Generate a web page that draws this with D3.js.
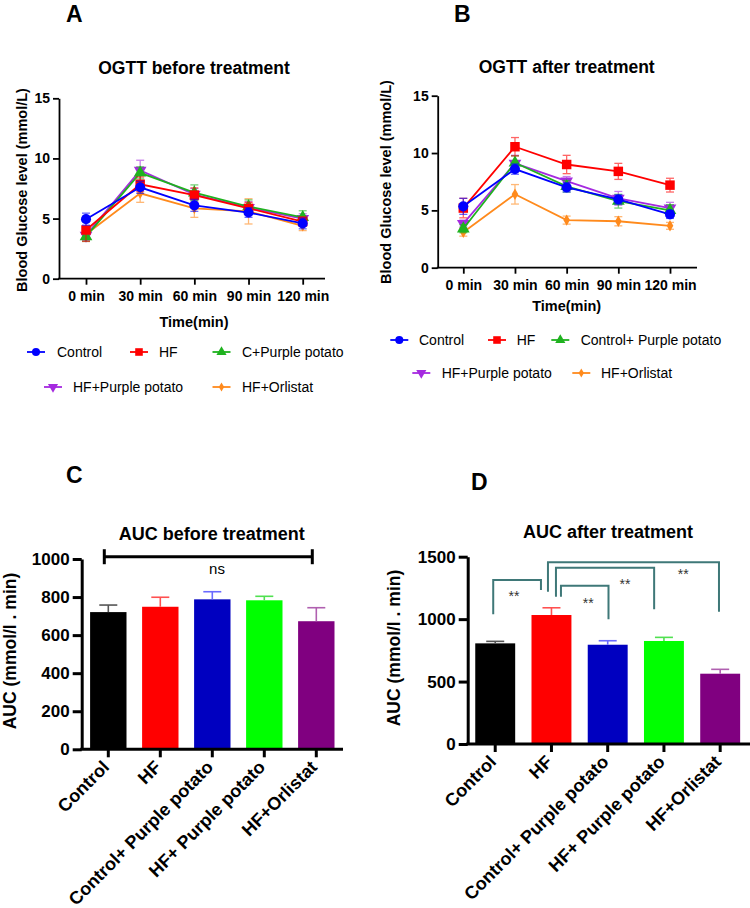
<!DOCTYPE html>
<html><head><meta charset="utf-8">
<script src="https://cdn.jsdelivr.net/npm/d3@7"></script>
<style>body{margin:0;background:#fff} text{font-family:"Liberation Sans",Arial,sans-serif}</style>
</head><body><svg id="c" width="750" height="908"></svg>
<script>
// ---------- DATA ----------
const timepoints = ["0 min","30 min","60 min","90 min","120 min"];
const legendNamesA = ["Control","HF","C+Purple potato","HF+Purple potato","HF+Orlistat"];
const legendNamesB = ["Control","HF","Control+ Purple potato","HF+Purple potato","HF+Orlistat"];

// OGTT before treatment (mmol/L), mean and SEM
const beforeControl = [4.95, 7.6, 6.1, 5.5, 4.6];
const beforeControlErr = [0.5, 0.5, 0.5, 0.4, 0.45];
const beforeHF = [4.05, 7.85, 6.95, 5.85, 4.75];
const beforeHFErr = [0.95, 0.6, 0.6, 0.5, 0.4];
const beforeCPP = [3.5, 8.8, 7.15, 6.0, 5.1];
const beforeCPPErr = [0.4, 0.5, 0.65, 0.55, 0.55];
const beforeHFPP = [3.6, 9.0, 7.0, 5.9, 5.0];
const beforeHFPPErr = [0.4, 0.85, 0.5, 0.5, 0.4];
const beforeOrl = [3.7, 7.1, 5.85, 5.6, 4.4];
const beforeOrlErr = [0.5, 0.75, 0.75, 1.05, 0.4];

// OGTT after treatment
const afterControl = [5.35, 8.6, 7.0, 5.95, 4.65];
const afterControlErr = [0.7, 0.45, 0.4, 0.4, 0.35];
const afterHF = [5.2, 10.55, 9.0, 8.4, 7.2];
const afterHFErr = [0.85, 0.8, 0.8, 0.7, 0.6];
const afterCPP = [3.4, 9.15, 7.1, 5.8, 5.0];
const afterCPPErr = [0.35, 0.6, 0.5, 0.6, 0.5];
const afterHFPP = [3.85, 9.1, 7.55, 6.05, 5.2];
const afterHFPPErr = [0.3, 0.7, 0.4, 0.6, 0.5];
const afterOrl = [3.1, 6.4, 4.15, 4.05, 3.65];
const afterOrlErr = [0.35, 0.85, 0.35, 0.4, 0.3];

const yTicksOGTT = [0, 5, 10, 15];

// AUC
const barCategories = ["Control","HF","Control+ Purple potato","HF+ Purple potato","HF+Orlistat"];
const aucBefore = [721, 749, 788, 783, 673];
const aucBeforeErr = [37, 50, 40, 21, 71];
const aucAfter = [806, 1033, 795, 825, 563];
const aucAfterErr = [16, 58, 32, 29, 35];
const yTicksAUCBefore = [0, 200, 400, 600, 800, 1000];
const yTicksAUCAfter = [0, 500, 1000, 1500];

// significance comparisons for AUC after (from, to, bracket top, left end, right end, label level)
const compFrom = [0, 1, 1, 1];
const compTo = [1, 2, 3, 4];
const compTop = [1313, 1268, 1412, 1455];
const compLeftEnd = [1039, 1180, 1180, 1220];
const compRightEnd = [1233, 999, 1079, 1060];
const compLabel = ["**", "**", "**", "**"];
const compLabelLevel = [1193, 1140, 1287, 1367];

// ---------- STYLE ----------
const lineColors = ["#0000ff", "#ff0000", "#1fb21f", "#a52ae0", "#ff8a1c"];
const symbols = [d3.symbolCircle, d3.symbolSquare, d3.symbolTriangle, d3.symbolTriangle, d3.symbolDiamond];
const symbolSizes = [80, 90, 70, 70, 38];
const symbolRot = [0, 0, 0, 180, 0];
const barColors = ["#000000", "#ff0000", "#0000c0", "#00ff00", "#800080"];
const barErrColors = ["#555555", "#ff5050", "#6a6aff", "#50e050", "#b060b0"];
const FONT = '"Liberation Sans",Arial,sans-serif';

const svg = d3.select("#c");

function letter(txt, x, y) {
  svg.append("text").attr("x", x).attr("y", y).attr("font-size", 23).attr("font-weight", "bold").text(txt);
}

function symbolPath(i) {
  return d3.symbol().type(symbols[i]).size(symbolSizes[i])();
}

function linePanel(cfg) {
  const g = svg.append("g");
  const x = d3.scalePoint().domain(timepoints).range(cfg.xRange);
  const y = d3.scaleLinear().domain([0, 15]).range(cfg.yRange);
  const ya = d3.axisLeft(y).tickValues(yTicksOGTT).tickSize(6).tickPadding(3).tickSizeOuter(0);
  const yg = g.append("g").attr("transform", `translate(${cfg.axisX},0)`).call(ya);
  yg.select(".domain").attr("stroke-width", 1.8);
  yg.selectAll(".tick line").attr("stroke-width", 1.8);
  yg.selectAll("text").attr("font-size", 14).attr("font-weight", "bold").attr("font-family", FONT);
  const xa = d3.axisBottom(x).tickSize(6).tickPadding(5).tickSizeOuter(0);
  const xg = g.append("g").attr("transform", `translate(0,${cfg.yRange[0]})`).call(xa);
  xg.select(".domain").remove();
  xg.selectAll(".tick line").attr("stroke-width", 1.8);
  xg.selectAll("text").attr("font-size", 14).attr("font-weight", "bold").attr("font-family", FONT).attr("dy", cfg.xLabDy);
  g.append("line").attr("x1", cfg.axisX - 0.9).attr("x2", cfg.axisEnd).attr("y1", cfg.yRange[0]).attr("y2", cfg.yRange[0])
    .attr("stroke", "#000").attr("stroke-width", 1.8);
  g.append("text").attr("x", cfg.titleX).attr("y", cfg.titleY).attr("text-anchor", "middle")
    .attr("font-size", 17.5).attr("font-weight", "bold").text(cfg.title);
  g.append("text").attr("transform", `translate(${cfg.yLabX},${cfg.yLabY}) rotate(-90)`).attr("text-anchor", "middle")
    .attr("font-size", 14.5).attr("font-weight", "bold").text("Blood Glucose level (mmol/L)");
  g.append("text").attr("x", cfg.titleX).attr("y", cfg.xTitleY).attr("text-anchor", "middle")
    .attr("font-size", 14.5).attr("font-weight", "bold").text("Time(min)");
  const order = [4, 3, 2, 1, 0];
  const line = d3.line().x((d, i) => x(timepoints[i])).y(d => y(d));
  order.forEach(si => {
    const vals = cfg.means[si], errs = cfg.errs[si], col = lineColors[si];
    g.append("path").datum(vals).attr("d", line).attr("fill", "none").attr("stroke", col).attr("stroke-width", 1.8);
    const eb = g.append("g").attr("stroke", col).attr("stroke-width", 1.3).attr("opacity", 0.6);
    vals.forEach((v, i) => {
      const cx = x(timepoints[i]);
      eb.append("line").attr("x1", cx).attr("x2", cx).attr("y1", y(v - errs[i])).attr("y2", y(v + errs[i]));
      [v - errs[i], v + errs[i]].forEach(e => eb.append("line").attr("x1", cx - 4).attr("x2", cx + 4).attr("y1", y(e)).attr("y2", y(e)));
    });
    vals.forEach((v, i) => {
      g.append("path").attr("d", symbolPath(si))
        .attr("transform", `translate(${x(timepoints[i])},${y(v)}) rotate(${symbolRot[si]})`).attr("fill", col);
    });
  });
  cfg.legend.forEach((it, si) => {
    const col = lineColors[si];
    g.append("line").attr("x1", it[0] - 9).attr("x2", it[0] + 9).attr("y1", it[2]).attr("y2", it[2]).attr("stroke", col).attr("stroke-width", 1.8);
    g.append("path").attr("d", symbolPath(si)).attr("transform", `translate(${it[0]},${it[2]}) rotate(${symbolRot[si]}) scale(0.8)`).attr("fill", col);
    g.append("text").attr("x", it[1]).attr("y", it[2] + 5).attr("font-size", 14).text(cfg.legendNames[si]);
  });
}

linePanel({
  xRange: [86, 302.7], yRange: [278.7, 98.3], axisX: 59, axisEnd: 325,
  titleX: 194, titleY: 74, title: "OGTT before treatment", yLabX: 27, yLabY: 190, xTitleY: 327, xLabDy: "0.8em",
  means: [beforeControl, beforeHF, beforeCPP, beforeHFPP, beforeOrl],
  errs: [beforeControlErr, beforeHFErr, beforeCPPErr, beforeHFPPErr, beforeOrlErr],
  legendNames: legendNamesA,
  legend: [[36, 57, 352], [139, 159, 352], [221.5, 242, 352], [53, 73, 387], [221.5, 242, 387]]
});
linePanel({
  xRange: [463.3, 670], yRange: [267.7, 95.7], axisX: 437.7, axisEnd: 697,
  titleX: 566.7, titleY: 73, title: "OGTT after treatment", yLabX: 391, yLabY: 182, xTitleY: 311, xLabDy: "0.8em",
  means: [afterControl, afterHF, afterCPP, afterHFPP, afterOrl],
  errs: [afterControlErr, afterHFErr, afterCPPErr, afterHFPPErr, afterOrlErr],
  legendNames: legendNamesB,
  legend: [[399.3, 419, 340], [497, 516.7, 340], [560.3, 580.7, 340], [421.3, 441.7, 373], [581.3, 601, 373]]
});

function barPanel(cfg) {
  const g = svg.append("g");
  const x = d3.scaleBand().domain(barCategories).range(cfg.xRange).paddingInner(cfg.padIn).paddingOuter(cfg.padIn / 2);
  const y = d3.scaleLinear().domain(cfg.yDomain).range(cfg.yRange);
  cfg.values.forEach((v, i) => {
    const c = barCategories[i];
    g.append("rect").attr("x", x(c)).attr("width", x.bandwidth()).attr("y", y(v)).attr("height", y(0) - y(v)).attr("fill", barColors[i]);
    const cx = x(c) + x.bandwidth() / 2, top = y(v + cfg.errs[i]);
    g.append("line").attr("x1", cx).attr("x2", cx).attr("y1", y(v)).attr("y2", top).attr("stroke", barErrColors[i]).attr("stroke-width", 1.6);
    g.append("line").attr("x1", cx - 9).attr("x2", cx + 9).attr("y1", top).attr("y2", top).attr("stroke", barErrColors[i]).attr("stroke-width", 1.6);
  });
  const ya = d3.axisLeft(y).tickValues(cfg.yTicks).tickFormat(d3.format("d")).tickSize(9).tickPadding(3).tickSizeOuter(0);
  const yg = g.append("g").attr("transform", `translate(${cfg.axisX},0)`).call(ya);
  yg.select(".domain").attr("stroke-width", 3);
  yg.selectAll(".tick line").attr("stroke-width", 3);
  yg.selectAll("text").attr("font-size", 17).attr("font-weight", "bold").attr("font-family", FONT);
  const xa = d3.axisBottom(x).tickSize(8).tickPadding(4).tickSizeOuter(0);
  const xg = g.append("g").attr("transform", `translate(0,${cfg.yRange[0]})`).call(xa);
  xg.select(".domain").remove();
  xg.selectAll(".tick line").attr("stroke-width", 3);
  xg.selectAll("text").attr("font-size", 18).attr("font-weight", "bold").attr("font-family", FONT)
    .attr("text-anchor", "end").attr("dy", "0").attr("y", 0).attr("x", 0)
    .attr("transform", "translate(2,19) rotate(-45)");
  g.append("line").attr("x1", cfg.axisX - 1.5).attr("x2", cfg.axisEnd).attr("y1", cfg.yRange[0]).attr("y2", cfg.yRange[0])
    .attr("stroke", "#000").attr("stroke-width", 3);
  g.append("text").attr("x", cfg.titleX).attr("y", cfg.titleY).attr("text-anchor", "middle")
    .attr("font-size", 18).attr("font-weight", "bold").text(cfg.title);
  g.append("text").attr("transform", `translate(${cfg.yLabX},${cfg.yLabY}) rotate(-90)`).attr("text-anchor", "middle")
    .attr("font-size", 17.5).attr("font-weight", "bold").text("AUC (mmol/l . min)");
  return {g, x, y};
}

// Panel C
const pc = barPanel({
  xRange: [82.3, 342.3], padIn: 0.3, yDomain: [0, 1000], yRange: [749.3, 559], axisX: 81.7, axisEnd: 343,
  values: aucBefore, errs: aucBeforeErr, yTicks: yTicksAUCBefore,
  titleX: 211.7, titleY: 540, title: "AUC before treatment", yLabX: 16, yLabY: 651
});
{
  const {g, x, y} = pc;
  const x1 = x(barCategories[0]) + x.bandwidth() / 2 - 4, x2 = x(barCategories[4]) + x.bandwidth() / 2 - 4, yy = y(1012);
  g.append("line").attr("x1", x1).attr("x2", x2).attr("y1", yy).attr("y2", yy).attr("stroke", "#000").attr("stroke-width", 3);
  [x1, x2].forEach(xx => g.append("line").attr("x1", xx).attr("x2", xx).attr("y1", yy - 7.5).attr("y2", yy + 7.5).attr("stroke", "#000").attr("stroke-width", 3));
  g.append("text").attr("x", 217).attr("y", yy + 17).attr("text-anchor", "middle").attr("font-size", 15).text("ns");
}

// Panel D
const pd = barPanel({
  xRange: [467.1, 748.3], padIn: 0.29, yDomain: [0, 1500], yRange: [744, 556.7], axisX: 467.7, axisEnd: 750,
  values: aucAfter, errs: aucAfterErr, yTicks: yTicksAUCAfter,
  titleX: 608, titleY: 538, title: "AUC after treatment", yLabX: 400, yLabY: 648
});
{
  const {g, x, y} = pd;
  const leftOff = [-2, 9.5, 4.5, -3.5];
  const rightOff = [-10.5, 0.8, -9.8, -1.2];
  const labelX = [514, 588.3, 625, 683.3];
  compFrom.forEach((f, k) => {
    const xl = x(barCategories[f]) + x.bandwidth() / 2 + leftOff[k];
    const xr = x(barCategories[compTo[k]]) + x.bandwidth() / 2 + rightOff[k];
    const pts = [[xl, y(compLeftEnd[k])], [xl, y(compTop[k])], [xr, y(compTop[k])], [xr, y(compRightEnd[k])]];
    g.append("path").attr("d", d3.line()(pts)).attr("fill", "none").attr("stroke", "#3f7878").attr("stroke-width", 2);
    g.append("text").attr("x", labelX[k]).attr("y", y(compLabelLevel[k]) + 6).attr("text-anchor", "middle")
      .attr("font-size", 14).attr("fill", "#333").text(compLabel[k]);
  });
}

letter("A", 66, 22);
letter("B", 454, 22);
letter("C", 66, 483);
letter("D", 471, 490);
</script></body></html>
